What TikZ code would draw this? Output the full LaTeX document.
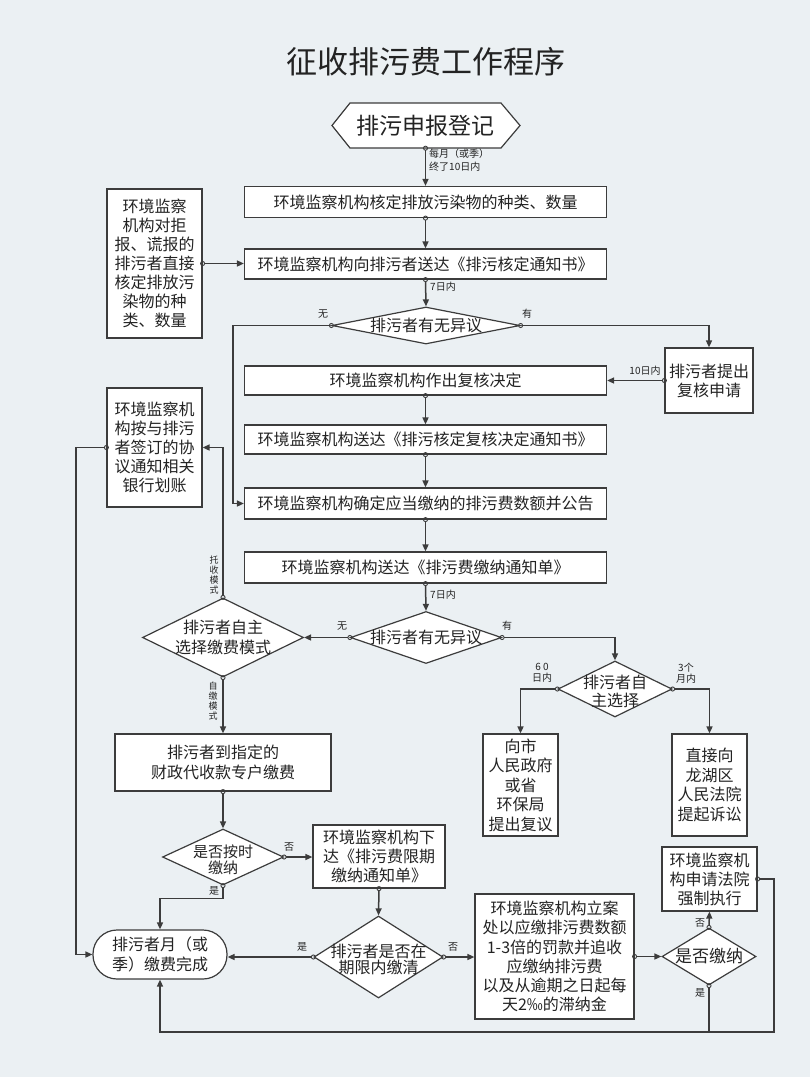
\documentclass[tikz,border=0pt]{standalone}
\usepackage{fontspec}
\setmainfont{Noto Sans CJK SC}
\usetikzlibrary{arrows.meta,calc,shapes.geometric}
\definecolor{bgc}{RGB}{235,240,243}
\definecolor{linec}{RGB}{60,60,60}
\definecolor{txtc}{RGB}{35,35,35}
\tikzset{
  box/.style={draw=linec, line width=1.2pt, fill=white, inner sep=0pt, align=center,
    text=txtc, font=\fontsize{16}{19}\selectfont},
  dia/.style={diamond, draw=linec, line width=1.2pt, fill=white, inner sep=0pt},
  dtxt/.style={inner sep=0pt, align=center, text=txtc, font=\fontsize{16}{20}\selectfont},
  lbl/.style={inner sep=0pt, align=center, text=txtc, font=\fontsize{10}{11}\selectfont},
  vlbl/.style={inner sep=0pt, align=center, text=txtc, font=\fontsize{9}{10}\selectfont},
  conn/.style={draw=linec, line width=1.5pt, shorten <=-2.5pt,
    {Circle[open,length=5pt,line width=0.9pt]}-{Triangle[length=7pt,width=6pt]}},
  connplain/.style={draw=linec, line width=1.5pt, shorten <=-2.5pt,
    {Circle[open,length=5pt,line width=0.9pt]}-},
}
\begin{document}
\begin{tikzpicture}[x=1pt,y=-1pt]
\fill[bgc] (0,0) rectangle (810,1077);
\useasboundingbox (0,0) rectangle (810,1077);

% title
\node[text=txtc, font=\fontsize{31}{34}\selectfont, inner sep=0pt] (title) at (426,62) {征收排污费工作程序};

% hexagon
\path[draw=linec, line width=1.2pt, fill=white] (350,103) -- (501,103) -- (520,125.5) -- (501,148) -- (350,148) -- (332,125.5) -- cycle;
\node[inner sep=0pt, minimum width=151, minimum height=45, text=txtc, font=\fontsize{23}{25}\selectfont] (hex) at (425.5,125.5) {排污申报登记};

% main column boxes
\node[box, minimum width=362, minimum height=31] (box1) at (425.5,202) {环境监察机构核定排放污染物的种类、数量};
\node[box, minimum width=362, minimum height=30] (box2) at (425.5,264) {环境监察机构向排污者送达《排污核定通知书》};
\node[box, minimum width=362, minimum height=29] (box3) at (425.5,380.5) {环境监察机构作出复核决定};
\node[box, minimum width=362, minimum height=29] (box4) at (425.5,439.5) {环境监察机构送达《排污核定复核决定通知书》};
\node[box, minimum width=362, minimum height=31] (box5) at (425.5,503.5) {环境监察机构确定应当缴纳的排污费数额并公告};
\node[box, minimum width=362, minimum height=31] (box6) at (425.5,567.5) {环境监察机构送达《排污费缴纳通知单》};

% side boxes
\node[box, minimum width=95, minimum height=149] (lb) at (154.5,263.5) {环境监察\\机构对拒\\报、谎报的\\排污者直接\\核定排放污\\染物的种\\类、数量};
\node[box, minimum width=95, minimum height=119] (bank) at (154.5,447.5) {环境监察机\\构按与排污\\者签订的协\\议通知相关\\银行划账};
\node[box, minimum width=88, minimum height=65] (r1) at (709,380.5) {排污者提出\\复核申请};
\node[box, minimum width=216, minimum height=57, font=\fontsize{16}{20}\selectfont] (pay) at (223,762.5) {排污者到指定的\\财政代收款专户缴费};
\node[box, minimum width=132, minimum height=63] (lbox) at (379,856.5) {环境监察机构下\\达《排污费限期\\缴纳通知单》};
\node[box, minimum width=134, minimum height=49, rounded corners=24pt, font=\fontsize{16}{20}\selectfont] (rb) at (160,954.5) {排污者月（或\\季）缴费完成};
\node[box, minimum width=159, minimum height=125, font=\fontsize{16}{19.2}\selectfont] (big) at (554.5,956.5) {环境监察机构立案\\处以应缴排污费数额\\1-3倍的罚款并追收\\应缴纳排污费\\以及从逾期之日起每\\天2‰的滞纳金};
\node[box, minimum width=95, minimum height=64] (court) at (709.5,879) {环境监察机\\构申请法院\\强制执行};
\node[box, minimum width=75, minimum height=102, font=\fontsize{16}{19.5}\selectfont] (boxG) at (520.5,785) {向市\\人民政府\\或省\\环保局\\提出复议};
\node[box, minimum width=75, minimum height=102, font=\fontsize{16}{19.5}\selectfont] (boxC) at (709.5,785) {直接向\\龙湖区\\人民法院\\提起诉讼};

% diamonds
\node[dia, minimum width=188, minimum height=37] (d1) at (426,325.5) {};
\node[dtxt] (d1t) at (d1) {排污者有无异议};
\node[dia, minimum width=151, minimum height=52] (d2) at (426,637.5) {};
\node[dtxt] (d2t) at (d2) {排污者有无异议};
\node[dia, minimum width=161, minimum height=79] (d3) at (223,637.5) {};
\node[dtxt] (d3t) at (d3) {排污者自主\\选择缴费模式};
\node[dia, minimum width=121, minimum height=56] (d4) at (223,857) {};
\node[dtxt, font=\fontsize{15}{16}\selectfont] (d4t) at ($(d4)+(0,3)$) {是否按时\\缴纳};
\node[dia, minimum width=129, minimum height=82] (d5) at (378.5,957) {};
\node[dtxt, font=\fontsize{16}{16}\selectfont] (d5t) at ($(d5)+(0,2)$) {排污者是否在\\期限内缴清};
\node[dia, minimum width=94, minimum height=57] (d6) at (709,956.5) {};
\node[dtxt, font=\fontsize{17}{18}\selectfont] (d6t) at (d6) {是否缴纳};
\node[dia, minimum width=114, minimum height=56] (d7) at (615,689) {};
\node[dtxt, font=\fontsize{16}{18}\selectfont] (d7t) at ($(d7)+(0,2)$) {排污者自\\主选择};

% helper coordinates
\coordinate (cL) at (233,0);
\coordinate (cLL) at (76,0);
\coordinate (cR) at (774,1032);

% connectors
\draw[conn] (hex.south) -- (box1.north);
\draw[conn] (box1.south) -- (box2.north);
\draw[conn] (lb.east) -- (lb.east -| box2.west);
\draw[conn] (box2.south) -- (d1.north);
\draw[conn] (d1.west) -- (d1.west -| cL) |- (box5.west);
\draw[conn] (d1.east) -| (r1.north);
\draw[conn] (r1.west) -- (r1.west -| box3.east);
\draw[conn] (box3.south) -- (box4.north);
\draw[conn] (box4.south) -- (box5.north);
\draw[conn] (box5.south) -- (box6.north);
\draw[conn] (box6.south) -- (d2.north);
\draw[conn] (d2.west) -- (d3.east);
\draw[conn] (d2.east) -| (d7.north);
\draw[conn] (d7.west) -| (boxG.north);
\draw[conn] (d7.east) -| (boxC.north);
\draw[conn] (d3.north) |- (bank.east);
\draw[conn] (bank.west) -- (bank.west -| cLL) |- (rb.west);
\draw[conn] (d3.south) -- (pay.north);
\draw[conn] (pay.south) -- (d4.north);
\draw[conn] (d4.east) -- (d4.east -| lbox.west);
\draw[conn] (d4.south) -- ++(0,13) -| (rb.north);
\draw[conn] (lbox.south) -- (d5.north);
\draw[conn] (d5.west) -- (d5.west -| rb.east);
\draw[conn] (d5.east) -- (d5.east -| big.west);
\draw[conn] (big.east) -- (big.east -| d6.west);
\draw[conn] (d6.north) -- (court.south);
\draw[conn] (court.east) -| (cR) -| (rb.south);
\draw[connplain] (d6.south) -- (d6.south |- cR);

% labels
\node[lbl, anchor=west, align=left, font=\fontsize{10}{13}\selectfont] (l1) at (429,160) {每月（或季）\\终了10日内};
\node[lbl, anchor=west] (l2) at (430,287) {7日内};
\node[lbl] (l3) at (323,314) {无};
\node[lbl] (l4) at (527,314) {有};
\node[lbl] (l5) at (645,371) {10日内};
\node[lbl, anchor=west] (l6) at (430,595) {7日内};
\node[lbl] (l7) at (342,626) {无};
\node[lbl] (l8) at (507,626) {有};
\node[lbl] (l9) at (542,673) {6 0\\日内};
\node[lbl] (l10) at (686,673) {3个\\月内};
\node[vlbl] (l11) at (214,575) {托\\收\\模\\式};
\node[vlbl] (l12) at (213,701) {自\\缴\\模\\式};
\node[lbl] (l13) at (289,847) {否};
\node[lbl] (l14) at (214,891) {是};
\node[lbl] (l15) at (302,947) {是};
\node[lbl] (l16) at (453,947) {否};
\node[lbl] (l17) at (700,923) {否};
\node[lbl] (l18) at (700,993) {是};
\end{tikzpicture}
\end{document}
